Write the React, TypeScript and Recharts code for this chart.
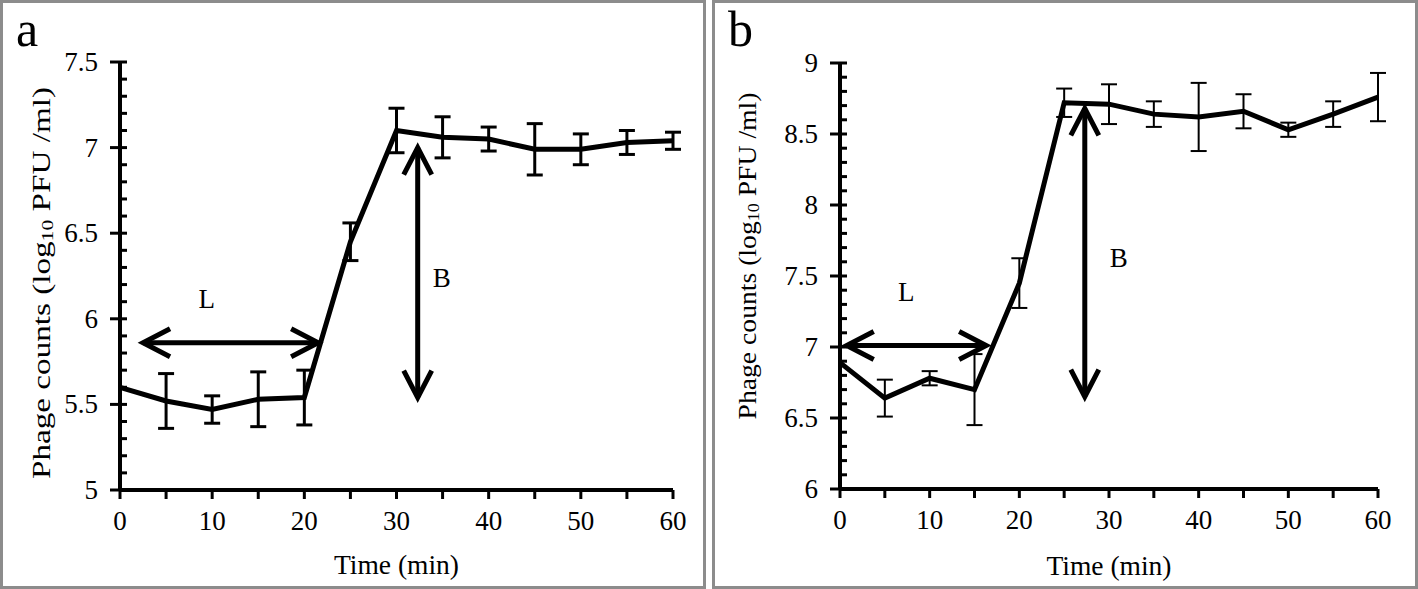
import {
  LineChart,
  Line,
  XAxis,
  YAxis,
  ErrorBar,
  ReferenceLine,
  ReferenceDot,
} from "recharts";

const FONT = '"Liberation Serif", "Times New Roman", serif';

// time points (min)
const times = [0, 5, 10, 15, 20, 25, 30, 35, 40, 45, 50, 55, 60];

// panel a
const countsA = [5.6, 5.52, 5.47, 5.53, 5.54, 6.45, 7.1, 7.06, 7.05, 6.99, 6.99, 7.03, 7.04];
const errorsA = [0, 0.16, 0.08, 0.16, 0.16, 0.11, 0.13, 0.12, 0.07, 0.15, 0.09, 0.07, 0.05];

// panel b
const countsB = [6.89, 6.64, 6.78, 6.7, 7.45, 8.72, 8.71, 8.64, 8.62, 8.66, 8.53, 8.64, 8.76];
const errorsB = [0, 0.13, 0.05, 0.25, 0.175, 0.1, 0.14, 0.09, 0.24, 0.12, 0.05, 0.09, 0.17];

const xTicks = [0, 5, 10, 15, 20, 25, 30, 35, 40, 45, 50, 55, 60];
const yTicksA = [5, 5.1, 5.2, 5.3, 5.4, 5.5, 5.6, 5.7, 5.8, 5.9, 6, 6.1, 6.2, 6.3, 6.4, 6.5, 6.6, 6.7, 6.8, 6.9, 7, 7.1, 7.2, 7.3, 7.4, 7.5];
const yTicksB = [6, 6.1, 6.2, 6.3, 6.4, 6.5, 6.6, 6.7, 6.8, 6.9, 7, 7.1, 7.2, 7.3, 7.4, 7.5, 7.6, 7.7, 7.8, 7.9, 8, 8.1, 8.2, 8.3, 8.4, 8.5, 8.6, 8.7, 8.8, 8.9, 9];

// annotation arrows: [x1, y1, x2, y2] in data units
const arrowLA = [2.5, 5.86, 21.5, 5.86];
const arrowBA = [32.3, 7.0, 32.3, 5.54];
const arrowLB = [0.75, 7.01, 16.3, 7.01];
const arrowBB = [27.3, 8.68, 27.3, 6.65];

// annotation letters: [x, y]
const labelLA = [9.4, 6.12];
const labelBA = [34.9, 6.24];
const labelLB = [7.4, 7.39];
const labelBB = [31.1, 7.63];

const toRows = (vals: number[], errs: number[]) =>
  times.map((t, i) => ({ t, v: vals[i], e: errs[i] }));

function YTick(props: any) {
  const { x, y, payload } = props;
  const v = payload.value;
  const major = Math.abs(v * 2 - Math.round(v * 2)) < 1e-6;
  if (!major) {
    return <line x1={x} x2={x + 7} y1={y} y2={y} stroke="#000" strokeWidth={3} />;
  }
  return (
    <g>
      <line x1={x - 10} x2={x + 7} y1={y} y2={y} stroke="#000" strokeWidth={3} />
      <text
        x={x - 22}
        y={y}
        textAnchor="end"
        dominantBaseline="central"
        fontSize={27}
        fontFamily={FONT}
        fill="#000"
      >
        {String(Math.round(v * 10) / 10)}
      </text>
    </g>
  );
}

function Arrow(props: any) {
  const { x1, y1, x2, y2 } = props;
  const dx = x2 - x1;
  const dy = y2 - y1;
  const len = Math.sqrt(dx * dx + dy * dy) || 1;
  const ux = dx / len;
  const uy = dy / len;
  const px = -uy;
  const py = ux;
  const L = 27;
  const W = 14;
  const head = (tx: number, ty: number, s: number) =>
    `M${tx - s * ux * L + px * W},${ty - s * uy * L + py * W} L${tx},${ty} L${tx - s * ux * L - px * W},${ty - s * uy * L - py * W}`;
  return (
    <g fill="none" stroke="#000" strokeWidth={5}>
      <line x1={x1} y1={y1} x2={x2} y2={y2} />
      <path d={head(x2, y2, 1)} />
      <path d={head(x1, y1, -1)} />
    </g>
  );
}

function Panel(props: any) {
  const { left, letter, rows, yTicks, domain, yAxisWidth, margin, errWidth, arrows, letters, ylabel } = props;
  return (
    <div
      style={{
        position: "absolute",
        left,
        top: 0,
        width: 706,
        height: 589,
        border: "3px solid #8c8c8c",
        boxSizing: "border-box",
        background: "#fff",
      }}
    >
      <div
        style={{
          position: "absolute",
          left: 13,
          top: 1,
          fontSize: 50,
          lineHeight: 1,
          fontFamily: FONT,
          color: "#000",
        }}
      >
        {letter}
      </div>
      <LineChart width={700} height={583} data={rows} margin={margin}>
        <XAxis
          dataKey="t"
          type="number"
          domain={[0, 60]}
          ticks={xTicks}
          interval={0}
          tickFormatter={(v: number) => (v % 10 === 0 ? String(v) : "")}
          tickSize={9}
          tickMargin={12}
          height={90}
          axisLine={{ stroke: "#000", strokeWidth: 4 }}
          tickLine={{ stroke: "#000", strokeWidth: 3 }}
          tick={{ fontSize: 27, fill: "#000", fontFamily: FONT }}
          label={{
            content: (p: any) => {
              const vb = p.viewBox;
              return (
                <text
                  x={vb.x + vb.width / 2}
                  y={ylabel.xLabelY}
                  textAnchor="middle"
                  fontSize={27}
                  fontFamily={FONT}
                  fill="#000"
                  textLength={125}
                  lengthAdjust="spacingAndGlyphs"
                >
                  Time (min)
                </text>
              );
            },
          }}
        />
        <YAxis
          type="number"
          domain={domain}
          ticks={yTicks}
          interval={0}
          width={yAxisWidth}
          tickSize={0}
          tickMargin={0}
          tickLine={false}
          axisLine={{ stroke: "#000", strokeWidth: 4 }}
          tick={<YTick />}
          label={{
            content: () => (
              <text
                x={ylabel.cx}
                y={ylabel.cy}
                transform={`rotate(-90, ${ylabel.cx}, ${ylabel.cy})`}
                textAnchor="middle"
                dominantBaseline="central"
                fontSize={26}
                fontFamily={FONT}
                fill="#000"
                textLength={ylabel.len}
                lengthAdjust="spacingAndGlyphs"
              >
                Phage counts (log
                <tspan fontSize={17} dy={6}>10</tspan>
                <tspan dy={-6}> PFU /ml)</tspan>
              </text>
            ),
          }}
        />
        {arrows.map((a: number[], i: number) => (
          <ReferenceLine
            key={"ar" + i}
            segment={[
              { x: a[0], y: a[1] },
              { x: a[2], y: a[3] },
            ]}
            ifOverflow="visible"
            shape={(p: any) => <Arrow {...p} />}
          />
        ))}
        {letters.map((l: any, i: number) => (
          <ReferenceDot
            key={"lb" + i}
            x={l.pos[0]}
            y={l.pos[1]}
            r={0}
            fill="none"
            stroke="none"
            ifOverflow="visible"
            label={{ value: l.text, position: "center", fontSize: 27, fill: "#000", fontFamily: FONT }}
          />
        ))}
        <Line
          type="linear"
          dataKey="v"
          stroke="#000"
          strokeWidth={5}
          dot={false}
          activeDot={false}
          isAnimationActive={false}
        >
          <ErrorBar
            dataKey="e"
            direction="y"
            width={8}
            stroke="#000"
            strokeWidth={errWidth}
            isAnimationActive={false}
          />
        </Line>
      </LineChart>
    </div>
  );
}

export default function App() {
  return (
    <div style={{ position: "absolute", left: 0, top: 0, width: 1418, height: 589, background: "#fff" }}>
      <Panel
        left={0}
        letter="a"
        rows={toRows(countsA, errorsA)}
        yTicks={yTicksA}
        domain={[5, 7.5]}
        yAxisWidth={117}
        margin={{ top: 59, right: 30, bottom: 6, left: 0 }}
        errWidth={3}
        arrows={[arrowLA, arrowBA]}
        letters={[
          { text: "L", pos: labelLA },
          { text: "B", pos: labelBA },
        ]}
        ylabel={{ cx: 38, cy: 280, len: 392, xLabelY: 571 }}
      />
      <Panel
        left={712}
        letter="b"
        rows={toRows(countsB, errorsB)}
        yTicks={yTicksB}
        domain={[6, 9]}
        yAxisWidth={125}
        margin={{ top: 60, right: 37, bottom: 7, left: 0 }}
        errWidth={2}
        arrows={[arrowLB, arrowBB]}
        letters={[
          { text: "L", pos: labelLB },
          { text: "B", pos: labelBB },
        ]}
        ylabel={{ cx: 32, cy: 253, len: 327, xLabelY: 572 }}
      />
    </div>
  );
}
